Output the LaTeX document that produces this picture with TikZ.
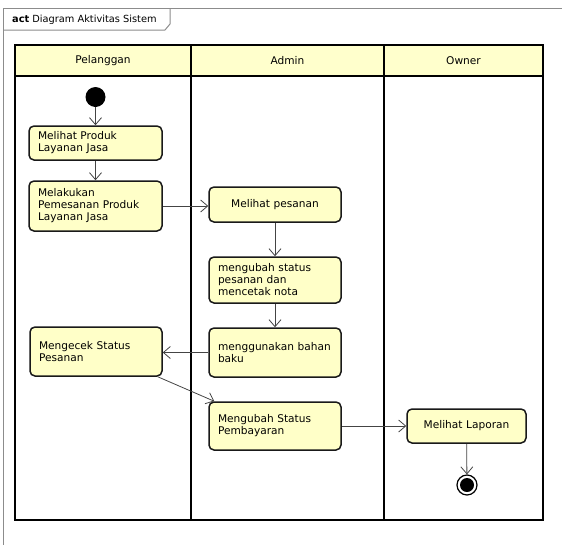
\documentclass[tikz,border=0pt]{standalone}
\usepackage{fontspec}
\setmainfont{DejaVu Sans}
\usetikzlibrary{arrows.meta}
\definecolor{actfill}{HTML}{FFFFC8}
\definecolor{headfill}{HTML}{FFFFCC}
\definecolor{framegray}{HTML}{8C8C8C}
\definecolor{flowgray}{HTML}{444444}
\begin{document}
\begin{tikzpicture}[x=1pt,y=-1pt,
  font=\fontsize{10.6}{12}\selectfont,
  actbox/.style={draw=black!90, line width=1.5pt, fill=actfill, rounded corners=5pt,
    inner xsep=9pt, inner ysep=0pt, align=left},
  actcbox/.style={actbox, align=center},
  flow/.style={draw=flowgray, line width=0.8pt, -{Straight Barb[length=7pt,width=12pt,line width=0.8pt]}},
  lane/.style={draw=black, line width=1.8pt},
  frame/.style={draw=framegray, line width=1pt}
]
\useasboundingbox (0,0) rectangle (562,544);
% outer frame with tab
\draw[frame] (3,560) -- (3,8) -- (580,8);
\draw[frame] (3,30) -- (165,30) -- (170,24) -- (170,8);
\node[anchor=west, inner sep=0pt, font=\fontsize{9.8}{11}\selectfont] (title) at (12,20) {\textbf{act} Diagram Aktivitas Sistem};
% swimlanes
\fill[headfill] (15,45) rectangle (543,76);
\draw[lane] (15,45) rectangle (543,520);
\draw[lane] (15,76) -- (543,76);
\draw[lane] (191,45) -- (191,520);
\draw[lane] (384,45) -- (384,520);
\node (h1) at (103,60.5) {Pelanggan};
\node (h2) at (287.5,60.5) {Admin};
\node (h3) at (463.5,60.5) {Owner};
% nodes
\node[circle, fill=black, minimum size=20pt, inner sep=0pt] (init) at (95.5,97) {};
\node[actbox, minimum width=133pt, minimum height=34pt, text width=115pt] (b1) at (95.5,143) {Melihat Produk\\Layanan Jasa};
\node[actbox, minimum width=133pt, minimum height=50pt, text width=115pt] (b2) at (95.5,206) {Melakukan\\Pemesanan Produk\\Layanan Jasa};
\node[actcbox, minimum width=132pt, minimum height=35pt, text width=114pt] (b3) at (275,204.5) {Melihat pesanan};
\node[actbox, minimum width=132pt, minimum height=46pt, text width=114pt] (b4) at (275,280) {mengubah status\\pesanan dan\\mencetak nota};
\node[actbox, minimum width=132pt, minimum height=49pt, text width=114pt] (b5) at (275,352.5) {menggunakan bahan\\baku};
\node[actbox, minimum width=132pt, minimum height=49pt, text width=114pt] (b6) at (96,351.5) {Mengecek Status\\Pesanan};
\node[actbox, minimum width=132pt, minimum height=48pt, text width=114pt] (b7) at (275,426) {Mengubah Status\\Pembayaran};
\node[actcbox, minimum width=119pt, minimum height=34pt, text width=101pt] (b8) at (466.5,426) {Melihat Laporan};
\node[circle, draw=black, line width=1.2pt, minimum size=20pt, inner sep=0pt] (final) at (467,485) {};
\fill[black] (final.center) circle (7pt);
% flows
\draw[flow] (init) -- (b1);
\draw[flow] (b1) -- (b2);
\draw[flow] (b2.east) -- (b2.east -| b3.west);
\draw[flow] (b3) -- (b4);
\draw[flow] (b4) -- (b5);
\draw[flow] (b5.west) -- (b5.west -| b6.east);
\draw[flow] ([xshift=-5pt]b6.south east) -- ([xshift=6pt]b7.north west);
\draw[flow] (b7.east) -- (b7.east -| b8.west);
\draw[flow] (b8) -- (final);
\end{tikzpicture}
\end{document}
